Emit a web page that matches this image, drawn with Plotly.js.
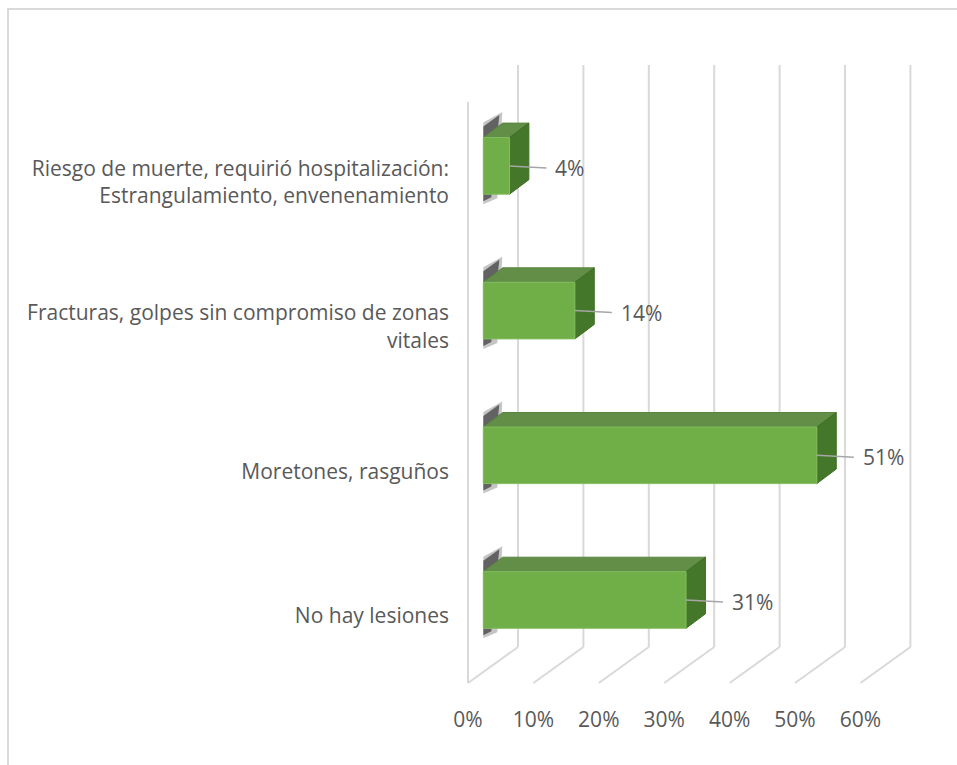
<!DOCTYPE html>
<html>
<head>
<meta charset="utf-8">
<script src="https://cdn.plot.ly/plotly-3.0.1.min.js"></script>
<style>
  html, body { margin: 0; padding: 0; background: #ffffff; }
  #chart { width: 957px; height: 765px; }
</style>
</head>
<body>
<div id="chart"></div>
<script>
// ---- data ----
const categories = [
  "No hay lesiones",
  "Moretones, rasguños",
  "Fracturas, golpes sin compromiso de zonas<br>vitales",
  "Riesgo de muerte, requirió hospitalización:<br>Estrangulamiento, envenenamiento"
];
const values = [0.31, 0.51, 0.14, 0.04];
const tickValues = [0, 0.1, 0.2, 0.3, 0.4, 0.5, 0.6];
const tickLabels = ["0%", "10%", "20%", "30%", "40%", "50%", "60%"];

// ---- geometry (style/layout constants) ----
const W = 957, H = 765;
const L = 460, R = 920, T = 60, B = 690;
const x0px = 483.3, pxPerX = 654;       // bar front plane: 0% at 483.3px
const y0px = 616, pxPerY = 144.7;       // category index 0 label at 616px
const xRange = [(L - x0px) / pxPerX, (R - x0px) / pxPerX];
const yRange = [(y0px - B) / pxPerY, (y0px - T) / pxPerY];

const dxPx = v => v / pxPerX;
const dyPx = v => v / pxPerY;

const floorFrontDx = dxPx(-15.3);
const wallBackDx = dxPx(34.7);
const yFloorFront = (y0px - 683) / pxPerY;
const yFloorBack = (y0px - 647) / pxPerY;
const yWallTop = (y0px - 65) / pxPerY;
const yFrontTop = (y0px - 102) / pxPerY;

const barShift = dyPx(16);
const barHalf = dyPx(28.3);
const depthX = dxPx(19.4);
const depthY = dyPx(14.5);

const gridColor = "#D9D9D9";
const textColor = "#595959";
const font = "Open Sans, Liberation Sans, sans-serif";
const fontSize = 21;

const shapes = [];

// outer chart border
shapes.push({
  type: "rect", xref: "paper", yref: "paper", layer: "below",
  x0: (8 - L) / (R - L), x1: (W + 20 - L) / (R - L),
  y0: (B - (H + 20)) / (B - T), y1: (B - 9) / (B - T),
  line: { color: gridColor, width: 2 }, fillcolor: "rgba(0,0,0,0)"
});

// left wall front vertical
shapes.push({
  type: "line", xref: "x", yref: "y", layer: "below",
  x0: floorFrontDx, x1: floorFrontDx, y0: yFloorFront, y1: yFrontTop,
  line: { color: gridColor, width: 2 }
});
// floor diagonals + back wall verticals
tickValues.forEach(t => {
  shapes.push({
    type: "line", xref: "x", yref: "y", layer: "below",
    x0: t + floorFrontDx, y0: yFloorFront, x1: t + wallBackDx, y1: yFloorBack,
    line: { color: gridColor, width: 2 }
  });
  shapes.push({
    type: "line", xref: "x", yref: "y", layer: "below",
    x0: t + wallBackDx, y0: yFloorBack, x1: t + wallBackDx, y1: yWallTop,
    line: { color: gridColor, width: 2 }
  });
});

const barY = categories.map((c, i) => i + barShift);

// shadows, top faces and side faces of the 3D bars
values.forEach((v, i) => {
  const yc = barY[i];
  const yb = yc - barHalf, yt = yc + barHalf;
  // soft outer shadow
  shapes.push({
    type: "path", xref: "x", yref: "y", layer: "below",
    path: `M 0,${yb - dyPx(10)} L ${dxPx(14)},${yb - dyPx(4)} L ${dxPx(19)},${yt + depthY + dyPx(11)} L 0,${yt + dyPx(15)} Z`,
    fillcolor: "rgba(90,90,90,0.35)", line: { width: 0 }
  });
  // darker inner shadow
  shapes.push({
    type: "path", xref: "x", yref: "y", layer: "below",
    path: `M 0,${yb - dyPx(7)} L ${dxPx(8)},${yb - dyPx(3)} L ${dxPx(16)},${yt + depthY + dyPx(8)} L 0,${yt + dyPx(11)} Z`,
    fillcolor: "rgba(55,55,55,0.7)", line: { width: 0 }
  });
  // top face
  shapes.push({
    type: "path", xref: "x", yref: "y", layer: "below",
    path: `M 0,${yt} L ${v},${yt} L ${v + depthX},${yt + depthY} L ${depthX},${yt + depthY} Z`,
    fillcolor: "#628E48", line: { color: "#5A8540", width: 1 }
  });
  // side face
  shapes.push({
    type: "path", xref: "x", yref: "y", layer: "below",
    path: `M ${v},${yb} L ${v},${yt} L ${v + depthX},${yt + depthY} L ${v + depthX},${yb + depthY} Z`,
    fillcolor: "#447729", line: { color: "#3E6E24", width: 1 }
  });
});

const annotations = values.map((v, i) => ({
  x: v, y: barY[i], xref: "x", yref: "y",
  text: Math.round(v * 100) + "%",
  showarrow: true, arrowhead: 0, arrowwidth: 1.5, arrowcolor: "#A6A6A6",
  standoff: 0, ax: 37, ay: 2, xanchor: "left", yanchor: "middle",
  borderpad: 8,
  font: { family: font, size: fontSize, color: textColor }
}));

const trace = {
  type: "bar", orientation: "h",
  x: values, y: barY,
  width: 2 * barHalf,
  marker: { color: "#70AE48", line: { color: "#84BE60", width: 1 } },
  hoverinfo: "skip"
};

const layout = {
  width: W, height: H,
  margin: { l: L, r: W - R, t: T, b: H - B, pad: 0 },
  paper_bgcolor: "#ffffff", plot_bgcolor: "#ffffff",
  showlegend: false,
  font: { family: font, size: fontSize, color: textColor },
  xaxis: {
    range: xRange, autorange: false,
    tickvals: tickValues.map(t => t + floorFrontDx), ticktext: tickLabels,
    showgrid: false, zeroline: false, showline: false, ticks: "",
    ticklabelstandoff: 15,
    tickfont: { family: font, size: fontSize, color: textColor },
    automargin: false, fixedrange: true
  },
  yaxis: {
    range: yRange, autorange: false,
    tickvals: categories.map((c, i) => i), ticktext: categories,
    showgrid: false, zeroline: false, showline: false, ticks: "",
    ticklabelstandoff: 10,
    tickfont: { family: font, size: fontSize, color: textColor },
    automargin: false, fixedrange: true
  },
  shapes: shapes,
  annotations: annotations
};

Plotly.newPlot("chart", [trace], layout, { displayModeBar: false, staticPlot: true });
</script>
</body>
</html>
